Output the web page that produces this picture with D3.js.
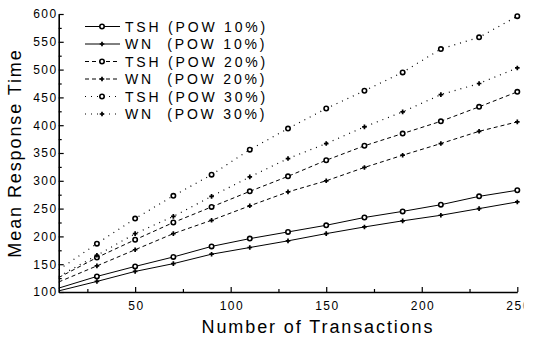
<!DOCTYPE html>
<html>
<head>
<meta charset="utf-8">
<script src="https://cdn.jsdelivr.net/npm/d3@7"></script>
<style>
    body { margin: 0; background: #fff; }
    text { font-family: "Liberation Sans", Arial, sans-serif; fill: #000; }
</style>
</head>
<body>
<div id="chart"></div>
<script>
// data
var transactions = [10, 30, 50, 70, 90, 110, 130, 150, 170, 190, 210, 230, 250];
var tsh10 = [107, 128, 146, 163, 182, 196, 208, 220, 234, 245, 257, 272, 283];
var wn10 = [102, 119, 137, 151, 168, 180, 192, 205, 217, 228, 238, 250, 262];
var tsh20 = [126, 162, 194, 225, 253, 281, 308, 337, 363, 385, 407, 433, 460];
var wn20 = [118, 147, 176, 205, 229, 255, 280, 300, 324, 346, 367, 389, 406];
var tsh30 = [140, 187, 232, 273, 311, 356, 394, 430, 462, 495, 537, 558, 596];
var wn30 = [128, 166, 205, 236, 272, 307, 340, 367, 397, 424, 455, 475, 503];
var seriesNames = ["TSH (POW 10%)", "WN  (POW 10%)", "TSH (POW 20%)", "WN  (POW 20%)", "TSH (POW 30%)", "WN  (POW 30%)"];
var xTicks = [50, 100, 150, 200, 250];
var yTicks = [100, 150, 200, 250, 300, 350, 400, 450, 500, 550, 600];

var width = 534, height = 337;
var margin = { top: 14, right: 16.7, bottom: 45, left: 58.7 };

var svg = d3.select("#chart")
    .append("svg")
    .attr("width", width)
    .attr("height", height);

// the original picture is cut off on the right
svg.append("clipPath").attr("id", "cut")
    .append("rect").attr("x", 0).attr("y", 0).attr("width", 523.5).attr("height", height);

var g = svg.append("g").attr("clip-path", "url(#cut)");

var x = d3.scaleLinear().domain([10, 250]).range([margin.left, width - margin.right]);
var y = d3.scaleLinear().domain([100, 600]).range([height - margin.bottom, margin.top]);

// minor ticks
g.append("g")
    .attr("transform", "translate(0," + y(100) + ")")
    .call(d3.axisBottom(x).tickValues([25, 75, 125, 175, 225]).tickSize(-3).tickFormat(""))
    .call(a => a.select(".domain").remove());
g.append("g")
    .attr("transform", "translate(" + x(10) + ",0)")
    .call(d3.axisLeft(y).tickValues(d3.range(125, 600, 50)).tickSize(-3).tickFormat(""))
    .call(a => a.select(".domain").remove());

// x axis
var xAxis = g.append("g")
    .attr("transform", "translate(0," + y(100) + ")")
    .call(d3.axisBottom(x).tickValues(xTicks).tickSize(-5).tickSizeOuter(0).tickPadding(9));
xAxis.selectAll("text")
    .style("font-size", "12px")
    .style("letter-spacing", "1.5px")
    .attr("dx", "0.75px");

// y axis
var yAxis = g.append("g")
    .attr("transform", "translate(" + x(10) + ",0)")
    .call(d3.axisLeft(y).tickValues(yTicks).tickSize(-5).tickSizeOuter(0).tickPadding(1));
yAxis.selectAll("text")
    .style("font-size", "12px")
    .style("letter-spacing", "1.5px");

g.selectAll(".domain").attr("stroke-width", 1.6);
g.selectAll(".tick line").attr("stroke-width", 1.2);

// axis titles
g.append("text")
    .attr("x", 318)
    .attr("y", 333)
    .attr("text-anchor", "middle")
    .style("font-size", "18px")
    .style("letter-spacing", "1.9px")
    .text("Number of Transactions");

g.append("text")
    .attr("transform", "translate(21," + ((y(100) + y(600)) / 2) + ") rotate(-90)")
    .attr("text-anchor", "middle")
    .style("font-size", "18px")
    .style("letter-spacing", "1.9px")
    .text("Mean Response Time");

var series = [
    { name: seriesNames[0], values: tsh10, dash: null, marker: "circle" },
    { name: seriesNames[1], values: wn10, dash: null, marker: "plus" },
    { name: seriesNames[2], values: tsh20, dash: "4,3", marker: "circle" },
    { name: seriesNames[3], values: wn20, dash: "4,3", marker: "plus" },
    { name: seriesNames[4], values: tsh30, dash: "1,5", marker: "circle" },
    { name: seriesNames[5], values: wn30, dash: "1,5", marker: "plus" }
];

var line = d3.line()
    .x((d, i) => x(transactions[i]))
    .y(d => y(d));

function drawMarker(sel, type) {
    if (type == "circle") {
        sel.append("circle")
            .attr("r", 2.2)
            .attr("fill", "#fff")
            .attr("stroke", "#000")
            .attr("stroke-width", 1.6);
    } else {
        sel.append("path")
            .attr("d", "M-2.3,0H2.3M0,-2.3V2.3")
            .attr("stroke", "#000")
            .attr("stroke-width", 1.7);
    }
}

series.forEach(function (s) {
    g.append("path")
        .datum(s.values)
        .attr("fill", "none")
        .attr("stroke", "#000")
        .attr("stroke-width", s.dash == "1,5" ? 1.2 : 1)
        .attr("stroke-dasharray", s.dash)
        .attr("d", line);

    var pts = g.selectAll(null)
        .data(s.values.slice(1))
        .enter()
        .append("g")
        .attr("transform", (d, i) => "translate(" + x(transactions[i + 1]) + "," + y(d) + ")");
    drawMarker(pts, s.marker);
});

// legend
var legend = g.append("g");
series.forEach(function (s, i) {
    var ly = 26.5 + i * 17.5;
    legend.append("line")
        .attr("x1", 85).attr("x2", 120)
        .attr("y1", ly).attr("y2", ly)
        .attr("stroke", "#000")
        .attr("stroke-width", s.dash == "1,5" ? 1.2 : 1)
        .attr("stroke-dasharray", s.dash);
    var m = legend.append("g").attr("transform", "translate(102," + ly + ")");
    drawMarker(m, s.marker);
    legend.append("text")
        .attr("x", 125)
        .attr("y", ly + 5)
        .attr("xml:space", "preserve")
        .style("font-size", "14px")
        .style("letter-spacing", "2.8px")
        .text(s.name.replace("  ", "\u00a0 "));
});
</script>
</body>
</html>
